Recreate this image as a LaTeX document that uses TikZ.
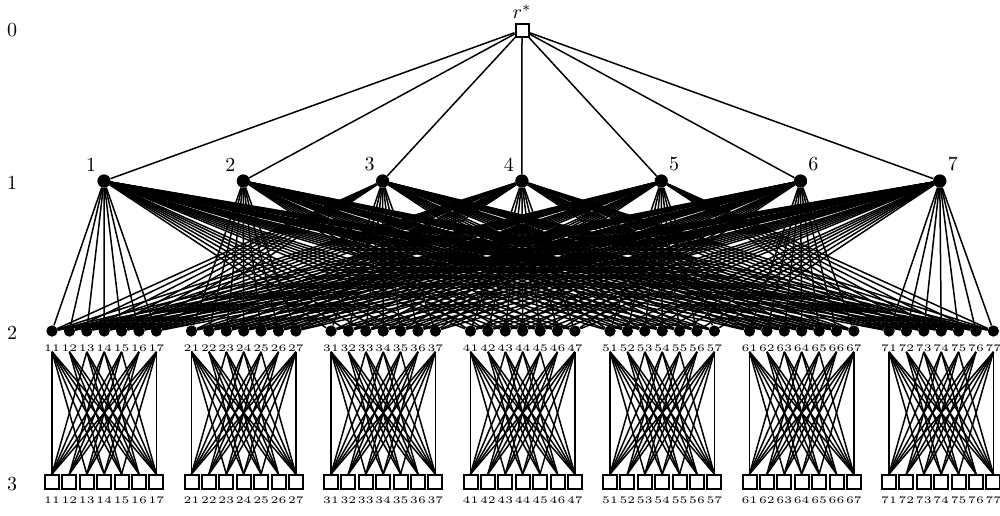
\documentclass[tikz,border=0pt]{standalone}
\usepackage{graphicx}
\usepackage{tikz}
\usetikzlibrary{positioning}

\newcommand{\rotulo}[1]{\scalebox{1.15}[1]{\tiny #1}}

\begin{document}
\begin{tikzpicture}[x=0.5pt, y=-0.5pt,
  quad/.style={draw, line width=1pt, fill=white, minimum size=7pt, inner sep=0pt},
  bola/.style={circle, fill=black, minimum size=5.5pt, inner sep=0pt},
  rot/.style={inner sep=0pt},
  aresta/.style={line width=0.75pt}]
\useasboundingbox (0,0) rectangle (1000,515);

% níveis
\node (nv0) at (12,30) {0};
\node (nv1) at (12,183) {1};
\node (nv2) at (12,333) {2};
\node (nv3) at (12,484) {3};

% raiz
\node[quad, minimum size=6.5pt] (raiz) at (522,30) {};
\node (raizrot) at (522,12) {$r^*$};

% nível 1
\foreach \i in {1,...,7} {
  \node[bola, minimum size=6.5pt] (a\i) at ({104+139.3*(\i-1)},181) {};
}
\foreach \i in {1,...,4} \node[above left=-1pt and -2pt of a\i] (ra\i) {\i};
\foreach \i in {5,...,7} \node[above right=-1pt and -2pt of a\i] (ra\i) {\i};

% nível 2 e 3
\foreach \i in {1,...,7} {
  \foreach \j in {1,...,7} {
    \node[bola] (b\i\j) at ({52+139.5*(\i-1)+17.4*(\j-1)},331) {};
    \node[rot] (rb\i\j) at ({52+139.5*(\i-1)+17.4*(\j-1)},348) {\rotulo{\i\j}};
    \node[quad] (c\i\j) at ({52+139.5*(\i-1)+17.4*(\j-1)},482) {};
    \node[rot] (rc\i\j) at ({52+139.5*(\i-1)+17.4*(\j-1)},500) {\rotulo{\i\j}};
  }
}

% arestas
\foreach \i in {1,...,7} \draw[aresta] (raiz) -- (a\i);
% i liga ao grupo k se k=i ou |k-i|>=2
\foreach \i in {1,...,7} {
  \foreach \k in {1,...,7} {
    \pgfmathtruncatemacro{\d}{abs(\k-\i)}
    \ifnum\d=1\else
      \foreach \j in {1,...,7} \draw[aresta] (a\i) -- (b\k\j);
    \fi
  }
}
% dentro de cada grupo
\foreach \i in {1,...,7} {
  \foreach \j in {1,...,7} {
    \foreach \k in {1,...,7} {
      \pgfmathtruncatemacro{\d}{abs(\j-\k)}
      \pgfmathtruncatemacro{\ponta}{(\j==\k)&&(\j==1||\j==7)}
      \ifnum\d>1 \draw[aresta] (rb\i\j.south) -- (c\i\k.north);\fi
      \ifnum\ponta=1 \draw[aresta] (rb\i\j.south) -- (c\i\k.north);\fi
    }
  }
}

% nós por cima
\node[quad, minimum size=6.5pt] at (raiz) {};
\foreach \i in {1,...,7} \node[bola, minimum size=6.5pt] at (a\i) {};
\foreach \i in {1,...,7} {
  \foreach \j in {1,...,7} {
    \node[bola] at (b\i\j) {};
    \node[quad] at (c\i\j) {};
  }
}
\end{tikzpicture}
\end{document}
